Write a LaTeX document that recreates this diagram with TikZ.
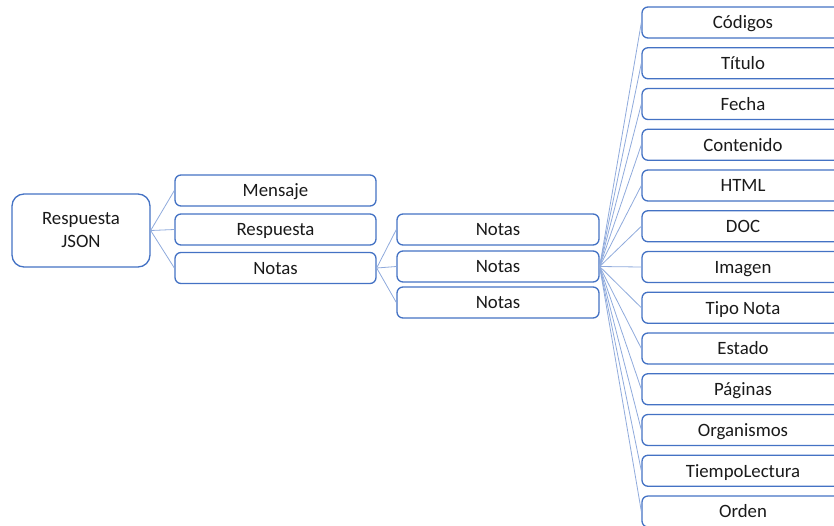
\documentclass[tikz,border=0pt]{standalone}
\usepackage{fontspec}
\setmainfont{Carlito}
\definecolor{boxblue}{HTML}{4472C4}
\definecolor{linkblue}{HTML}{8FAADC}
\definecolor{txt}{HTML}{1A1A1A}
\begin{document}
\begin{tikzpicture}[x=1pt,y=-1pt,
  basebox/.style={draw=boxblue, line width=1.3pt, fill=white, rounded corners=6pt,
    inner sep=0pt, font=\fontsize{18.8}{23}\selectfont, text=txt},
  box/.style={basebox, minimum width=201pt, minimum height=31pt, text height=12.5pt, text depth=0pt},
  rootbox/.style={basebox, rounded corners=12pt, minimum width=138pt, minimum height=73pt, align=center},
  link/.style={draw=linkblue, line width=0.8pt}]
\useasboundingbox (0,0) rectangle (834,525);
\node[rootbox] (root) at (81,230.5) {Respuesta\\JSON};
\node[box] (mensaje) at (275.5,190.5) {Mensaje};
\node[box] (respuesta) at (275.5,229.5) {Respuesta};
\node[box] (notas) at (275.5,268) {Notas};
\node[box, minimum width=202pt] (n1) at (498,229.5) {Notas};
\node[box, minimum width=202pt] (n2) at (498,266.5) {Notas};
\node[box, minimum width=202pt] (n3) at (498,302.5) {Notas};
\foreach \t [count=\i from 0] in {Códigos,Título,Fecha,Contenido,HTML,DOC,Imagen,Tipo Nota,Estado,Páginas,Organismos,TiempoLectura,Orden}{
  \node[box, minimum width=202pt] (r\i) at (743,22.5+40.75*\i) {\t};
}
\foreach \c in {mensaje,respuesta,notas} \draw[link] (root.east) -- (\c.west);
\foreach \c in {n1,n2,n3} \draw[link] (notas.east) -- (\c.west);
\foreach \i in {0,...,12} \draw[link] (n2.east) -- (r\i.west);
\end{tikzpicture}
\end{document}
